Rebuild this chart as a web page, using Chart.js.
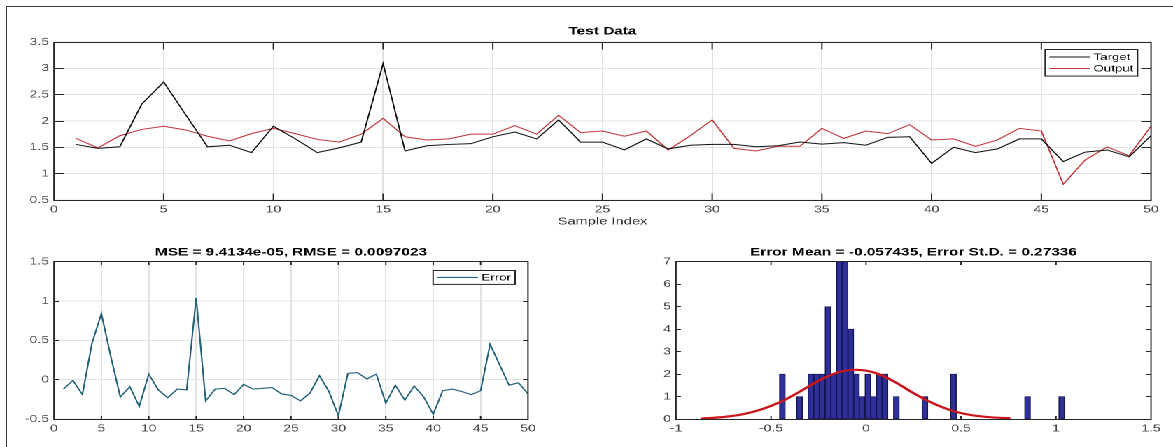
<!DOCTYPE html>
<html>
<head>
<meta charset="utf-8">
<script src="https://cdn.jsdelivr.net/npm/chart.js@4.4.1/dist/chart.umd.min.js"></script>
<style>
  html, body { margin: 0; padding: 0; background: #fff; width: 1173px; height: 447px; overflow: hidden; }
  #frame { position: absolute; left: 6px; top: 6px; width: 1167px; height: 441px; box-sizing: border-box;
           border-left: 1px solid #3a3a3a; border-top: 1px solid #3a3a3a; }
  /* the figure is laid out at 838px wide and stretched horizontally to 1173px */
  #fig { position: absolute; left: 0; top: 0; width: 838px; height: 447px;
         transform: scaleX(1.399761); transform-origin: 0 0; }
  #fig canvas { position: absolute; }
</style>
</head>
<body>
<div id="frame"></div>
<div id="fig">
  <canvas id="cTest" width="838" height="232" style="left:0;top:0"></canvas>
  <canvas id="cErr" width="420" height="215" style="left:0;top:232px"></canvas>
  <canvas id="cHist" width="418" height="215" style="left:420px;top:232px"></canvas>
</div>
<script>
// ---- data ----
const sampleIndex = [1,2,3,4,5,6,7,8,9,10,11,12,13,14,15,16,17,18,19,20,21,22,23,24,25,
                     26,27,28,29,30,31,32,33,34,35,36,37,38,39,40,41,42,43,44,45,46,47,48,49,50];
const target = [1.555,1.48,1.51,2.32,2.74,2.12,1.51,1.54,1.40,1.90,
                1.66,1.40,1.49,1.60,3.09,1.43,1.53,1.555,1.57,1.70,
                1.79,1.66,2.02,1.60,1.60,1.45,1.66,1.47,1.54,1.555,
                1.555,1.51,1.53,1.60,1.56,1.59,1.54,1.69,1.70,1.195,
                1.50,1.40,1.47,1.66,1.66,1.23,1.41,1.45,1.32,1.72];
const output = [1.67,1.49,1.72,1.84,1.90,1.83,1.71,1.62,1.76,1.86,
                1.76,1.65,1.60,1.75,2.05,1.70,1.64,1.66,1.75,1.75,
                1.91,1.75,2.11,1.78,1.81,1.71,1.81,1.45,1.72,2.02,
                1.48,1.43,1.52,1.52,1.86,1.67,1.81,1.76,1.93,1.64,
                1.66,1.52,1.64,1.86,1.81,0.80,1.26,1.51,1.34,1.90];
const errorValues = [-0.12,-0.01,-0.19,0.46,0.84,0.29,-0.22,-0.09,-0.34,0.07,
                     -0.13,-0.23,-0.12,-0.13,1.04,-0.27,-0.12,-0.11,-0.19,-0.06,
                     -0.12,-0.11,-0.10,-0.18,-0.20,-0.27,-0.17,0.05,-0.15,-0.46,
                     0.08,0.09,0.01,0.07,-0.30,-0.07,-0.26,-0.08,-0.22,-0.44,
                     -0.14,-0.12,-0.15,-0.19,-0.14,0.45,0.19,-0.07,-0.04,-0.18];
// error histogram (non-empty bins only)
const binCenters = [-0.44,-0.35,-0.29,-0.26,-0.23,-0.20,-0.17,-0.14,-0.11,-0.08,-0.05,
                    -0.02,0.01,0.04,0.07,0.10,0.16,0.31,0.46,0.85,1.03];
const binCounts  = [2,1,2,2,2,5,2,7,7,4,2,1,2,1,2,2,1,1,2,1,1];
// fitted normal curve over the histogram
const fitX = [-0.87,-0.75,-0.65,-0.55,-0.45,-0.35,-0.25,-0.15,-0.05,0.05,0.15,0.25,0.35,0.45,0.55,0.65,0.76];
const fitY = [0.02,0.09,0.21,0.43,0.76,1.21,1.70,2.07,2.19,2.05,1.66,1.15,0.71,0.38,0.18,0.08,0.03];

const titles = {
  test: 'Test Data',
  err: 'MSE = 9.4134e-05, RMSE = 0.0097023',
  hist: 'Error Mean = -0.057435, Error St.D. = 0.27336'
};

// ---- styling ----
const FONT = '"Liberation Sans", Arial, Helvetica, sans-serif';
const TICK_COLOR = '#474747';
const GRID_COLOR = '#e3e3e3';
const AXIS_COLOR = '#262626';

// title centred over the plot area
const axesTitle = {
  id: 'axesTitle',
  afterDraw(chart, args, o) {
    const { ctx, chartArea: a } = chart;
    ctx.save();
    ctx.font = `bold ${o.size}px ${FONT}`;
    ctx.fillStyle = '#000';
    ctx.textAlign = 'center';
    ctx.textBaseline = 'middle';
    ctx.fillText(o.text, (a.left + a.right) / 2, o.y);
    ctx.restore();
  }
};

// closed axes box with inward tick marks on all four sides
const axesBox = {
  id: 'axesBox',
  afterDatasetsDraw(chart, args, o) {
    const { ctx, chartArea: a, scales } = chart;
    const xs = scales.x, ys = scales.y;
    const top = Math.floor(a.top) + 0.5, bottom = Math.floor(a.bottom) + 0.5;
    ctx.save();
    ctx.strokeStyle = AXIS_COLOR;
    ctx.lineWidth = 1;
    ctx.beginPath();
    ctx.rect(a.left, top, a.right - a.left, bottom - top);
    const L = o.len;
    xs.ticks.forEach((t, i) => {
      const px = xs.getPixelForTick(i);
      ctx.moveTo(px, bottom); ctx.lineTo(px, bottom - L);
      ctx.moveTo(px, top); ctx.lineTo(px, top + L);
    });
    ys.ticks.forEach((t, i) => {
      const py = Math.floor(ys.getPixelForTick(i)) + 0.5;
      ctx.moveTo(a.left, py); ctx.lineTo(a.left + L, py);
      ctx.moveTo(a.right, py); ctx.lineTo(a.right - L, py);
    });
    ctx.stroke();
    ctx.restore();
  }
};

// boxed legend in the upper-right corner of the plot area
const boxLegend = {
  id: 'boxLegend',
  afterDraw(chart, args, o) {
    const { ctx, chartArea: a } = chart;
    const items = chart.data.datasets.filter(d => d.label);
    ctx.save();
    ctx.font = `${o.size}px ${FONT}`;
    const tw = Math.max(...items.map(d => ctx.measureText(d.label).width));
    const w = o.padL + o.line + o.gap + tw + o.padR;
    const h = o.padT + items.length * o.row + o.padB;
    const x0 = a.right - o.right - w;
    const y0 = Math.floor(a.top + o.top) + 0.5;
    ctx.fillStyle = '#fff';
    ctx.fillRect(x0, y0, w, h);
    ctx.strokeStyle = AXIS_COLOR;
    ctx.lineWidth = 1;
    ctx.strokeRect(x0, y0, w, h);
    items.forEach((d, i) => {
      const cy = y0 + o.padT + o.row * (i + 0.5);
      ctx.strokeStyle = d.borderColor;
      ctx.lineWidth = d.borderWidth;
      ctx.beginPath();
      ctx.moveTo(x0 + o.padL, cy);
      ctx.lineTo(x0 + o.padL + o.line, cy);
      ctx.stroke();
      ctx.fillStyle = '#000';
      ctx.textAlign = 'left';
      ctx.textBaseline = 'middle';
      ctx.fillText(d.label, x0 + o.padL + o.line + o.gap, cy + 0.5);
    });
    ctx.restore();
  }
};

function tickFont() { return { family: FONT, size: 10 }; }
// plain number labels: 1, 1.5, 2 ... (no padded decimals)
const plainLabel = v => String(Math.round(v * 1000) / 1000);

function xAxis(min, max, step, height, grid, title) {
  return {
    type: 'linear', min, max, offset: false,
    ticks: { stepSize: step, color: TICK_COLOR, font: tickFont(), padding: 3.5,
             autoSkip: false, maxRotation: 0, includeBounds: true, callback: plainLabel },
    grid: { display: grid, color: GRID_COLOR, drawTicks: false, lineWidth: 1, offset: false },
    border: { display: false },
    title: title ? { display: true, text: title, color: '#333', font: { family: FONT, size: 10.5 },
                     padding: { top: 0, bottom: 4.3 } } : { display: false },
    afterFit(s) { s.height = height; }
  };
}

function yAxis(min, max, step, width, grid) {
  return {
    type: 'linear', min, max,
    ticks: { stepSize: step, color: TICK_COLOR, font: tickFont(), padding: 3.5, callback: plainLabel },
    grid: { display: grid, color: GRID_COLOR, drawTicks: false, lineWidth: 1 },
    border: { display: false },
    afterFit(s) { s.width = width; }
  };
}

const common = {
  responsive: false,
  animation: false,
  devicePixelRatio: 2,
  events: []
};

const pts = (xs, ys) => xs.map((x, i) => ({ x, y: ys[i] }));

// ---- Test Data: target vs output ----
new Chart(document.getElementById('cTest'), {
  type: 'line',
  data: {
    datasets: [
      { label: 'Target', data: pts(sampleIndex, target), borderColor: '#111111', borderWidth: 1,
        pointRadius: 0, tension: 0, fill: false },
      { label: 'Output', data: pts(sampleIndex, output), borderColor: '#c0363a', borderWidth: 1,
        pointRadius: 0, tension: 0, fill: false }
    ]
  },
  plugins: [axesBox, axesTitle, boxLegend],
  options: Object.assign({}, common, {
    layout: { padding: { left: 0, right: 15.72, top: 42, bottom: 0 } },
    scales: {
      x: xAxis(0, 50, 5, 32, true, 'Sample Index'),
      y: yAxis(0.5, 3.5, 0.5, 38.58, true)
    },
    plugins: {
      legend: { display: false }, tooltip: { enabled: false },
      axesBox: { len: 7 },
      axesTitle: { text: titles.test, size: 11, y: 31.7 },
      boxLegend: { size: 9.5, padL: 3, line: 29, gap: 2.5, padR: 3, padT: 1.8, padB: 1.8, row: 11.5, right: 9.6, top: 7 }
    }
  })
});

// ---- Error per sample ----
new Chart(document.getElementById('cErr'), {
  type: 'line',
  data: {
    datasets: [
      { label: 'Error', data: pts(sampleIndex, errorValues), borderColor: '#22627a', borderWidth: 1.1,
        pointRadius: 0, tension: 0, fill: false }
    ]
  },
  plugins: [axesBox, axesTitle, boxLegend],
  options: Object.assign({}, common, {
    layout: { padding: { left: 0, right: 42.79, top: 29.7, bottom: 0 } },
    scales: {
      x: xAxis(0, 50, 5, 28, true, null),
      y: yAxis(-0.5, 1.5, 0.5, 38.58, true)
    },
    plugins: {
      legend: { display: false }, tooltip: { enabled: false },
      axesBox: { len: 3.5 },
      axesTitle: { text: titles.err, size: 11, y: 20.5 },
      boxLegend: { size: 9.5, padL: 3, line: 29, gap: 2.5, padR: 3, padT: 1.2, padB: 1.2, row: 11.5, right: 9.2, top: 9 }
    }
  })
});

// ---- Error histogram with normal fit ----
new Chart(document.getElementById('cHist'), {
  type: 'bar',
  data: {
    datasets: [
      { type: 'line', data: pts(fitX, fitY), borderColor: '#c8161c', borderWidth: 2.2,
        pointRadius: 0, cubicInterpolationMode: 'monotone', fill: false, order: 0 },
      { type: 'bar', data: pts(binCenters, binCounts), backgroundColor: '#2f2f9a',
        borderColor: '#15154e', borderWidth: 0.8, borderSkipped: false,
        barPercentage: 1, categoryPercentage: 1, order: 1 }
    ]
  },
  plugins: [axesBox, axesTitle],
  options: Object.assign({}, common, {
    layout: { padding: { left: 0, right: 15.72, top: 29.7, bottom: 0 } },
    scales: {
      x: xAxis(-1, 1.5, 0.5, 28, false, null),
      y: yAxis(0, 7, 1, 62.94, false)
    },
    plugins: {
      legend: { display: false }, tooltip: { enabled: false },
      axesBox: { len: 3.5 },
      axesTitle: { text: titles.hist, size: 11, y: 20.5 }
    }
  })
});
</script>
</body>
</html>
